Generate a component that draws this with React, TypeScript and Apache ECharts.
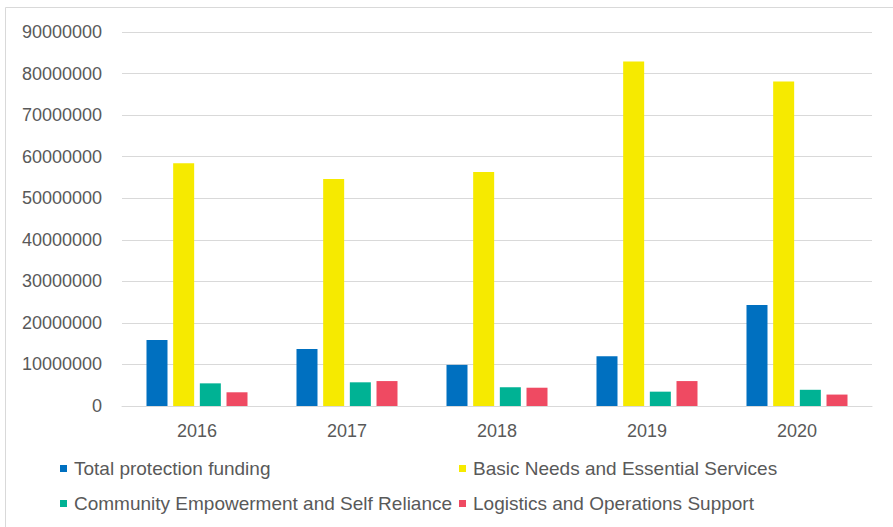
import React, { useEffect, useRef } from "react";
import * as echarts from "echarts";

const years = ["2016", "2017", "2018", "2019", "2020"];
const seriesNames = [
  "Total protection funding",
  "Basic Needs and Essential Services",
  "Community Empowerment and Self Reliance",
  "Logistics and Operations Support",
];
const totalProtection = [15900000, 13700000, 9900000, 12000000, 24300000];
const basicNeeds = [58400000, 54600000, 56300000, 82900000, 78100000];
const communityEmpowerment = [5450000, 5700000, 4500000, 3450000, 3900000];
const logistics = [3300000, 6000000, 4400000, 6000000, 2750000];
const colors = ["#0070C0", "#F6EA00", "#00B294", "#EF4A62"];

const legendPos = [
  { left: 60, top: 459 },
  { left: 459, top: 459 },
  { left: 60, top: 494 },
  { left: 459, top: 494 },
];

export default function App() {
  const ref = useRef<HTMLDivElement>(null);
  useEffect(() => {
    if (!ref.current) return;
    const chart = echarts.init(ref.current, null, { renderer: "svg" });
    const values = [totalProtection, basicNeeds, communityEmpowerment, logistics];
    const font = "'Liberation Sans', Arial, sans-serif";
    chart.setOption({
      animation: false,
      backgroundColor: "#ffffff",
      textStyle: { fontFamily: font },
      graphic: [
        {
          type: "rect",
          shape: { x: 5.5, y: 7.5, width: 900, height: 540 },
          style: { fill: "none", stroke: "#d9d9d9", lineWidth: 1 },
          silent: true,
        },
      ],
      legend: seriesNames.map((name, i) => ({
        data: [name],
        left: legendPos[i].left,
        top: legendPos[i].top,
        icon: "rect",
        itemWidth: 7,
        itemHeight: 7,
        selectedMode: false,
        padding: 0,
        textStyle: {
          fontSize: 19,
          color: "#595959",
          fontFamily: font,
          padding: [0, 0, 0, 2],
        },
      })),
      grid: { left: 122, right: 21, top: 32, bottom: 121, containLabel: false },
      xAxis: {
        type: "category",
        data: years,
        axisTick: { show: false },
        axisLine: { lineStyle: { color: "#d9d9d9", width: 1 } },
        axisLabel: { fontSize: 18, color: "#595959", margin: 16, fontFamily: font },
      },
      yAxis: {
        type: "value",
        min: 0,
        max: 90000000,
        interval: 10000000,
        axisLine: { show: false },
        axisTick: { show: false },
        splitLine: { lineStyle: { color: "#d9d9d9", width: 1 } },
        axisLabel: {
          fontSize: 18,
          color: "#595959",
          margin: 20,
          fontFamily: font,
          formatter: (v: number) => String(v),
        },
      },
      series: seriesNames.map((name, i) => ({
        name,
        type: "bar",
        data: values[i],
        barWidth: 21,
        barGap: "27%",
        itemStyle: { color: colors[i] },
      })),
    });
    return () => chart.dispose();
  }, []);
  return (
    <div
      ref={ref}
      style={{ position: "fixed", left: 0, top: 0, width: 893, height: 527 }}
    />
  );
}
